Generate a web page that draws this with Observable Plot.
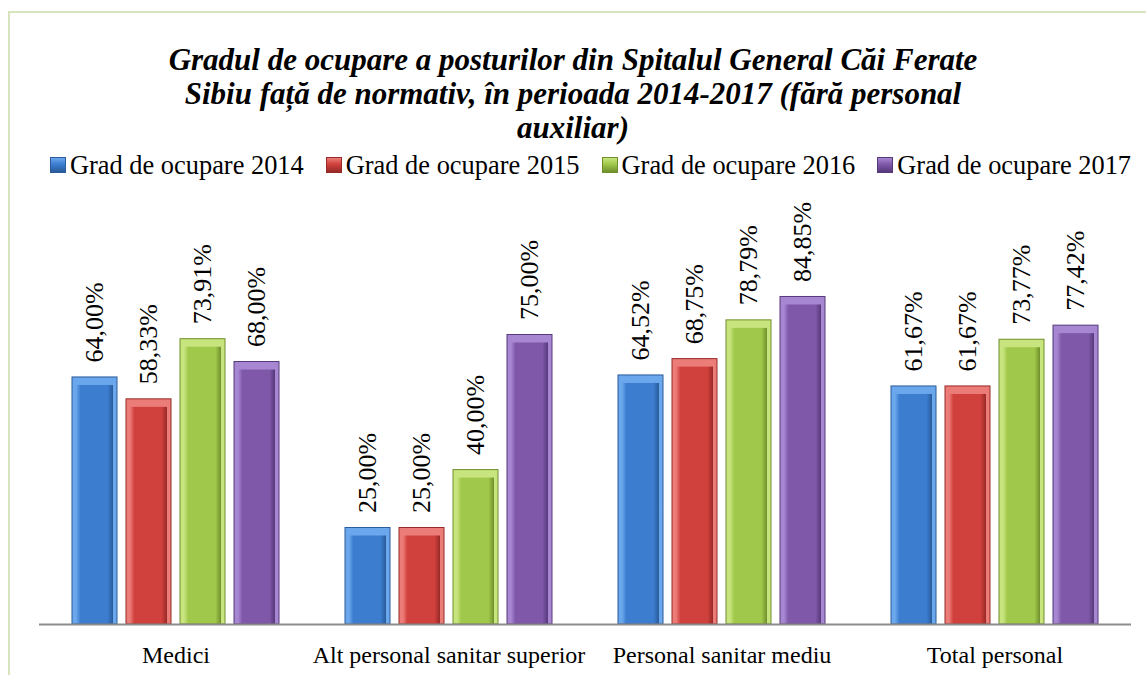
<!DOCTYPE html>
<html>
<head>
<meta charset="utf-8">
<script src="https://cdn.jsdelivr.net/npm/d3@7"></script>
<script src="https://cdn.jsdelivr.net/npm/@observablehq/plot@0.6"></script>
<style>
  html, body { margin: 0; padding: 0; background: #fff; overflow: hidden; }
  #wrap { position: relative; width: 1146px; height: 675px; overflow: hidden; font-family: "Liberation Serif", "Times New Roman", serif; }
  #frame { position: absolute; left: 8px; top: 11px; width: 1300px; height: 800px; border: 2px solid #d7e4bd; box-sizing: border-box; }
  #title { position: absolute; left: 0; top: 43px; width: 1146px; text-align: center; font-size: 31px; font-weight: bold; font-style: italic; line-height: 34px; color: #000; }
  #legend { position: absolute; left: 50px; top: 149px; height: 32px; line-height: 32px; font-size: 26.4px; display: flex; gap: 22px; white-space: nowrap; color: #000; }
  .item { display: flex; align-items: center; }
  .sw { width: 16px; height: 16px; margin-right: 4px; box-sizing: border-box; }
  #chart { position: absolute; left: 0; top: 190px; }
</style>
</head>
<body>
<div id="wrap">
  <div id="frame"></div>
  <div id="title"></div>
  <div id="legend"></div>
  <div id="chart"></div>
</div>
<script>
const titleLines = [
  "Gradul de ocupare a posturilor din Spitalul General Căi Ferate",
  "Sibiu față de normativ, în perioada 2014-2017 (fără personal",
  "auxiliar)"
];
const categories = ["Medici", "Alt personal sanitar superior", "Personal sanitar mediu", "Total personal"];
const seriesNames = ["Grad de ocupare 2014", "Grad de ocupare 2015", "Grad de ocupare 2016", "Grad de ocupare 2017"];
const v2014 = [64.00, 25.00, 64.52, 61.67];
const v2015 = [58.33, 25.00, 68.75, 61.67];
const v2016 = [73.91, 40.00, 78.79, 73.77];
const v2017 = [68.00, 75.00, 84.85, 77.42];
const seriesValues = [v2014, v2015, v2016, v2017];

// style palettes: [main, light, dark]
const palette = [
  ["#3c7dd0", "#6ba7ec", "#2a5b9a"],
  ["#d0403c", "#ec7c78", "#962a27"],
  ["#a0c84a", "#c8e47e", "#6f8f2c"],
  ["#7f58aa", "#a786d2", "#56397a"]
];

document.getElementById("title").innerHTML = titleLines.join("<br>");

const legend = document.getElementById("legend");
seriesNames.forEach((name, i) => {
  const it = document.createElement("div");
  it.className = "item";
  const sw = document.createElement("div");
  sw.className = "sw";
  const [m, l, d] = palette[i];
  sw.style.background = `linear-gradient(180deg, ${l} 0%, ${m} 45%, ${d} 100%)`;
  sw.style.border = `1px solid ${d}`;
  const tx = document.createElement("span");
  tx.textContent = name;
  it.appendChild(sw);
  it.appendChild(tx);
  legend.appendChild(it);
});

const data = [];
seriesNames.forEach((s, si) => {
  categories.forEach((c, ci) => {
    data.push({cat: c, series: s, v: seriesValues[si][ci]});
  });
});

const fmt = v => v.toFixed(2).replace(".", ",") + "%";

const chart = Plot.plot({
  width: 1146,
  height: 485,
  marginLeft: 38,
  marginRight: 14,
  marginTop: 48,
  marginBottom: 51,
  style: {fontFamily: "'Liberation Serif', 'Times New Roman', serif", color: "#000", background: "transparent"},
  fx: {domain: categories, padding: 0, label: null},
  x: {domain: seriesNames, axis: null, paddingInner: 0.16, paddingOuter: 0.58},
  y: {domain: [0, 100], axis: null},
  color: {domain: seriesNames, range: ["url(#gb0)", "url(#gb1)", "url(#gb2)", "url(#gb3)"]},
  marks: [
    Plot.axisFx({anchor: "bottom", tickSize: 0, tickPadding: 21, fontSize: 24, label: null, fill: "#000"}),
    Plot.barY(data, {fx: "cat", x: "series", y: "v", fill: d => palette[seriesNames.indexOf(d.series)][1]}),
    Plot.barY(data, {fx: "cat", x: "series", y: "v", fill: "series", insetTop: 8, insetLeft: 4, insetRight: 4}),
    Plot.barY(data, {fx: "cat", x: "series", y: "v", fill: "none", stroke: d => palette[seriesNames.indexOf(d.series)][2], strokeWidth: 1}),
    Plot.ruleY([0], {stroke: "#8c8c8c", strokeWidth: 2}),
    Plot.text(data, {fx: "cat", x: "series", y: "v", text: d => fmt(d.v), rotate: -90, textAnchor: "start", lineAnchor: "middle", dy: -15, fontSize: 26, fill: "#000"})
  ]
});

const ns = "http://www.w3.org/2000/svg";
const defs = document.createElementNS(ns, "defs");
palette.forEach(([m, l, d], i) => {
  const g = document.createElementNS(ns, "linearGradient");
  g.setAttribute("id", "gb" + i);
  g.setAttribute("x1", "0"); g.setAttribute("y1", "0");
  g.setAttribute("x2", "1"); g.setAttribute("y2", "0");
  [[0, l], [0.12, m], [0.85, m], [1, d]].forEach(([o, c]) => {
    const s = document.createElementNS(ns, "stop");
    s.setAttribute("offset", o);
    s.setAttribute("stop-color", c);
    g.appendChild(s);
  });
  defs.appendChild(g);
});
chart.insertBefore(defs, chart.firstChild);

document.getElementById("chart").appendChild(chart);
</script>
</body>
</html>
